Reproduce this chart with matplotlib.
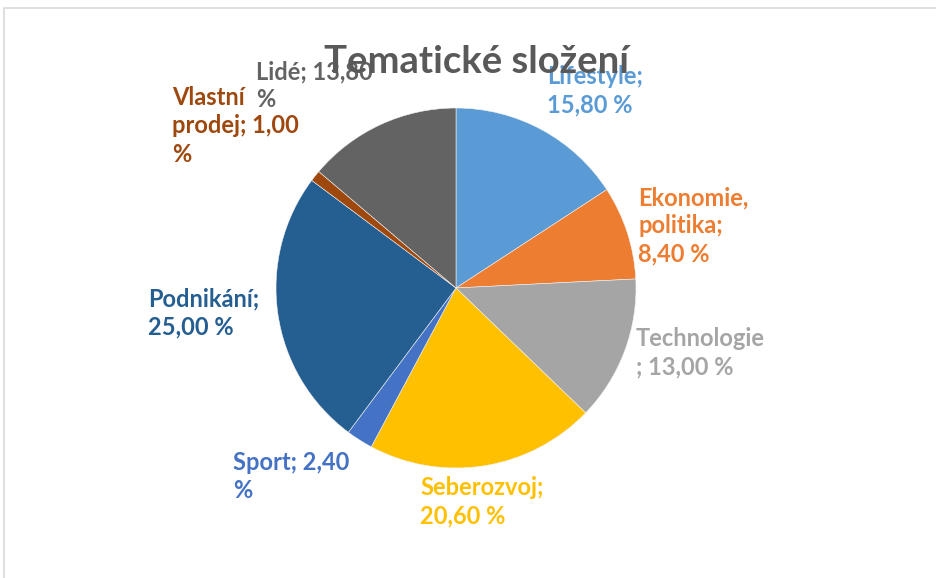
import matplotlib
matplotlib.use("Agg")
import matplotlib.pyplot as plt
from matplotlib.patches import Rectangle

plt.rcParams['font.family'] = ['Lato', 'DejaVu Sans']

title = "Tematické složení"
categories = ["Lifestyle", "Ekonomie, politika", "Technologie", "Seberozvoj",
              "Sport", "Podnikání", "Vlastní prodej", "Lidé"]
values = [15.8, 8.4, 13.0, 20.6, 2.4, 25.0, 1.0, 13.8]
colors = ["#5B9BD5", "#ED7D31", "#A5A5A5", "#FFC000",
          "#4472C4", "#255E91", "#9E480E", "#636363"]

# label text as wrapped in the reference (line breaks only)
wraps = {
    "Lifestyle": ["Lifestyle;", "{v} %"],
    "Ekonomie, politika": ["Ekonomie,", "politika;", "{v} %"],
    "Technologie": ["Technologie", "; {v} %"],
    "Seberozvoj": ["Seberozvoj;", "{v} %"],
    "Sport": ["Sport; {v}", "%"],
    "Podnikání": ["Podnikání;", "{v} %"],
    "Vlastní prodej": ["Vlastní", "prodej; {v}", "%"],
    "Lidé": ["Lidé; {v}", "%"],
}
# label anchor positions (pixels from top-left: left x, first-line baseline y)
label_pos = {
    "Lifestyle": (547, 84),
    "Ekonomie, politika": (638, 205),
    "Technologie": (636, 346),
    "Seberozvoj": (420, 495),
    "Sport": (233, 470),
    "Podnikání": (148, 306),
    "Vlastní prodej": (172, 105),
    "Lidé": (256, 79),
}
LINE_H = 28.3

W, H = 936, 578
fig = plt.figure(figsize=(W / 100, H / 100), dpi=100)
fig.patches.append(Rectangle((4 / W, -0.1), 1.2, (H - 8) / H + 0.1,
                             transform=fig.transFigure, fill=False,
                             edgecolor="#D9D9D9", linewidth=1.2))

cx, cy, r = 456, 288, 180
ax = fig.add_axes([(cx - r) / W, (H - cy - r) / H, 2 * r / W, 2 * r / H])
ax.pie(values, colors=colors, startangle=90, counterclock=False,
       wedgeprops=dict(edgecolor="#F2F2F2", linewidth=0.4))
ax.set_xlim(-1, 1)
ax.set_ylim(-1, 1)
ax.set_aspect("equal")
ax.axis("off")

for cat, val, col in zip(categories, values, colors):
    vs = f"{val:.2f}".replace(".", ",")
    lines = [s.format(v=vs) for s in wraps[cat]]
    x, y = label_pos[cat]
    for i, line in enumerate(lines):
        fig.text(x / W, 1 - (y + i * LINE_H) / H, line, color=col,
                 fontsize=17, fontweight="bold", ha="left", va="baseline")

fig.text(476 / W, 1 - 73 / H, title, color="#595959", fontsize=27.5,
         fontweight="bold", ha="center", va="baseline", zorder=10)

fig.savefig("out.png", dpi=100)
